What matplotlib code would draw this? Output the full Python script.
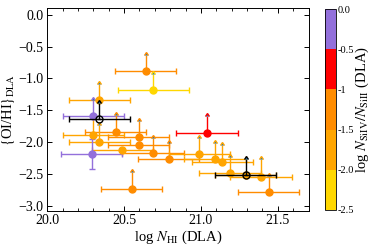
import matplotlib
matplotlib.use("Agg")
import matplotlib.pyplot as plt
from matplotlib.colors import ListedColormap, BoundaryNorm
from matplotlib.cm import ScalarMappable
from matplotlib.ticker import MultipleLocator

plt.rcParams["font.family"] = ["Liberation Serif", "DejaVu Serif"]
plt.rcParams["mathtext.fontset"] = "stix"

# --- data ---
log_nhi = [20.64, 20.69, 20.34, 20.30, 20.30, 20.445, 20.34, 20.595, 20.595,
           20.49, 20.69, 20.79, 20.29, 20.55, 21.04, 20.99, 21.09, 21.14,
           21.19, 21.29, 21.39, 21.44]
oi_hi = [-0.88, -1.18, -1.34, -1.59, -1.89, -1.85, -2.00, -1.92, -2.05,
         -2.13, -2.18, -2.27, -2.19, -2.74, -1.86, -2.19, -2.27, -2.31,
         -2.49, -2.52, -2.55, -2.79]
nhi_err = [0.2, 0.23, 0.2, 0.2, 0.2, 0.2, 0.2, 0.2, 0.2,
           0.2, 0.2, 0.2, 0.2, 0.2, 0.2, 0.2, 0.2, 0.2,
           0.2, 0.2, 0.2, 0.2]
oi_err = [0.25, 0.25, 0.25, 0.25, 0.27, 0.27, 0.27, 0.25, 0.0,
          0.0, 0.25, 0.25, 0.23, 0.27, 0.27, 0.25, 0.25, 0.27,
          0.25, 0.0, 0.28, 0.25]
is_lower = [True, True, True, True, True, True, True, True, False,
            False, True, True, False, True, True, True, True, True,
            True, False, True, True]
siiv_sii = [-1.2, -2.2, -1.7, -0.2, -1.7, -1.2, -1.7, -1.2, -1.2,
            -1.7, -1.2, -1.2, -0.2, -1.2, -0.7, -1.7, -1.7, -1.7,
            -1.7, -1.7, -1.7, -1.2]

# points without a SiIV/SiII value (open black circles)
nan_x = [20.34, 21.29]
nan_y = [-1.64, -2.52]
nan_xerr = [0.2, 0.2]
nan_arrow = [0.25, 0.25]

cbar_bounds = [-2.5, -2.0, -1.5, -1.0, -0.5, 0.0]
cbar_colors = ["#FFD700", "#FFA500", "#FF8C00", "#FF0000", "#9370DB"]
cbar_labels = ["-2.5", "-2.0", "-1.5", "-1", "-0.5", "0.0"]

cmap = ListedColormap(cbar_colors)
norm = BoundaryNorm(cbar_bounds, cmap.N)

fig = plt.figure(figsize=(3.74, 2.45), dpi=100)
ax = fig.add_axes([0.126, 0.140, 0.699, 0.826])
cax = fig.add_axes([0.869, 0.143, 0.029, 0.820])


def draw_point(x, y, xe, ye, lim, c, mfc, z):
    # y error / lower-limit arrow (small arrowhead)
    if ye > 0:
        ax.errorbar(x, y, yerr=ye, lolims=lim, fmt="none", ecolor=c,
                    capsize=1.3 if lim else 2, elinewidth=1.0, capthick=1.0, zorder=z)
    # x error with caps, and the marker
    ax.errorbar(x, y, xerr=xe, fmt="o", color=c, mfc=mfc, mec=c, ms=5,
                mew=1.0, capsize=2, elinewidth=1.0, capthick=1.0, zorder=z)


for x, y, xe, ye, lim, v in zip(log_nhi, oi_hi, nhi_err, oi_err, is_lower, siiv_sii):
    col = cmap(norm(v))
    draw_point(x, y, xe, ye, lim, col, col, 3)

for x, y, xe, ye in zip(nan_x, nan_y, nan_xerr, nan_arrow):
    draw_point(x, y, xe, ye, True, "black", "none", 4)

ax.set_xlim(20.0, 21.7)
ax.set_ylim(-3.08, 0.1)
ax.xaxis.set_major_locator(MultipleLocator(0.5))
ax.xaxis.set_minor_locator(MultipleLocator(0.1))
ax.yaxis.set_major_locator(MultipleLocator(0.5))
ax.tick_params(which="both", direction="in", top=True, right=True, labelsize=10)
ax.tick_params(which="major", length=3.5, width=0.7, pad=2.5)
ax.tick_params(which="minor", length=2, width=0.6)
ax.xaxis.set_major_formatter(plt.FuncFormatter(lambda v, p: f"{v:.1f}"))
ax.yaxis.set_major_formatter(plt.FuncFormatter(lambda v, p: f"{v:.1f}".replace("-", "\u2212")))
for s in ax.spines.values():
    s.set_linewidth(0.7)

ax.set_xlabel(r"log $N_{\rm HI}$ (DLA)", fontsize=10.5, labelpad=1)
ax.set_ylabel(r"$\{$OI/HI$\}_{\rm DLA}$", fontsize=10.5, labelpad=1)

cb = fig.colorbar(ScalarMappable(norm=norm, cmap=cmap), cax=cax,
                  boundaries=cbar_bounds, ticks=cbar_bounds)
cb.ax.set_yticklabels(cbar_labels)
cb.ax.tick_params(labelsize=7.5, length=0, pad=1)
cb.outline.set_linewidth(0.6)
cb.set_label(r"log $N_{\rm SiIV}/N_{\rm SiII}$ (DLA)", fontsize=10.5, labelpad=0)

fig.savefig("out.png", dpi=100)
